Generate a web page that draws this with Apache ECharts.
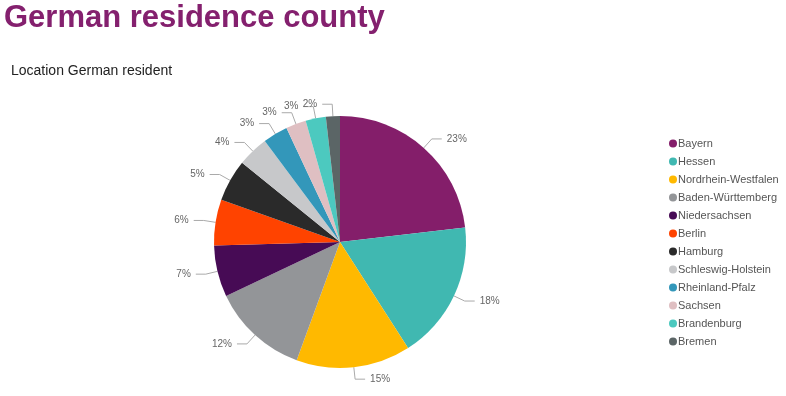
<!DOCTYPE html>
<html><head><meta charset="utf-8">
<script src="https://cdn.jsdelivr.net/npm/echarts@6/dist/echarts.min.js"></script>
<style>html,body{margin:0;padding:0;background:#fff}#c{width:786px;height:396px}</style>
</head><body><div id="c"></div>
<script>
const categories = ["Bayern","Hessen","Nordrhein-Westfalen","Baden-Württemberg","Niedersachsen","Berlin","Hamburg","Schleswig-Holstein","Rheinland-Pfalz","Sachsen","Brandenburg","Bremen"];
const values = [23.2, 17.8, 14.7, 12.4, 6.6, 5.9, 5.4, 4.0, 3.2, 2.6, 2.6, 1.8];
const colors = ["#841E6A","#40B8B1","#FFB900","#939598","#470B55","#FF4300","#2A2A2A","#C7C8CA","#3397BA","#DFBFC2","#4CC9BF","#5B6566"];

const chart = echarts.init(document.getElementById('c'));
chart.setOption({
  animation: false,
  title: [
    {text: 'German residence county', left: -1, top: -2, textStyle: {fontFamily: 'Liberation Sans', fontSize: 31, fontWeight: 'bold', color: '#84206E'}},
    {text: 'Location German resident', left: 6, top: 59, textStyle: {fontFamily: 'Liberation Sans', fontSize: 14, fontWeight: 'normal', color: '#222'}}
  ],
  color: colors,
  legend: {
    orient: 'vertical', left: 664, top: 133,
    icon: 'circle', itemWidth: 8, itemHeight: 8, itemGap: 7,
    textStyle: {fontFamily: 'Liberation Sans', fontSize: 11, color: '#555', padding: [0,0,0,-4]},
    data: categories
  },
  series: [{
    type: 'pie',
    center: [340, 242], radius: 126,
    startAngle: 90, clockwise: true,
    avoidLabelOverlap: false,
    data: categories.map((n, i) => ({name: n, value: values[i]})),
    label: {
      formatter: p => Math.round(p.percent) + '%',
      fontFamily: 'Liberation Sans', fontSize: 10, color: '#666'
    },
    labelLine: {length: 12, length2: 10, lineStyle: {color: '#aaa', width: 1}},
    itemStyle: {borderWidth: 0}
  }]
});
</script></body></html>
